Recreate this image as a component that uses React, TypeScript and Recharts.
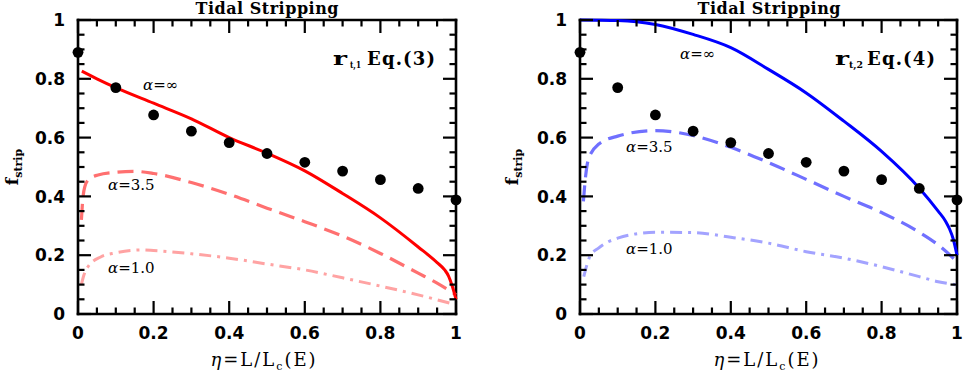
import React from 'react';
import { ComposedChart, Line, Scatter, XAxis, YAxis, ReferenceLine } from 'recharts';

// ---- data ----
const etaSim = [0, 0.1, 0.2, 0.3, 0.4, 0.5, 0.6, 0.7, 0.8, 0.9, 1.0];
const fSim = [0.89, 0.77, 0.677, 0.622, 0.583, 0.546, 0.516, 0.486, 0.457, 0.427, 0.388];

const etaRedInf = [0.01, 0.05, 0.1, 0.2, 0.3, 0.4, 0.5, 0.6, 0.7, 0.8, 0.9, 0.95, 0.97, 0.98, 0.99, 1.0];
const fRedInf = [0.826, 0.8, 0.77, 0.717, 0.664, 0.6, 0.547, 0.487, 0.41, 0.327, 0.228, 0.175, 0.15, 0.13, 0.095, 0.05];

const etaRed35 = [0.009, 0.012, 0.018, 0.03, 0.053, 0.1, 0.15, 0.2, 0.3, 0.4, 0.5, 0.6, 0.7, 0.8, 0.9, 0.95, 1.0];
const fRed35 = [0.32, 0.38, 0.433, 0.46, 0.473, 0.482, 0.485, 0.478, 0.447, 0.407, 0.36, 0.314, 0.265, 0.206, 0.139, 0.105, 0.065];

const etaRed10 = [0.009, 0.015, 0.026, 0.06, 0.1, 0.167, 0.2, 0.3, 0.4, 0.5, 0.6, 0.7, 0.8, 0.9, 1.0];
const fRed10 = [0.1, 0.13, 0.16, 0.194, 0.208, 0.218, 0.216, 0.205, 0.19, 0.17, 0.15, 0.123, 0.095, 0.065, 0.031];

const etaBlueInf = [0.0, 0.1, 0.15, 0.2, 0.3, 0.4, 0.5, 0.6, 0.7, 0.8, 0.9, 0.95, 0.97, 0.98, 0.99, 1.0];
const fBlueInf = [1.0, 0.998, 0.994, 0.985, 0.951, 0.906, 0.832, 0.752, 0.656, 0.553, 0.428, 0.35, 0.315, 0.29, 0.255, 0.2];

const etaBlue35 = [0.009, 0.015, 0.022, 0.05, 0.1, 0.2, 0.3, 0.4, 0.5, 0.6, 0.7, 0.8, 0.9, 0.95, 1.0];
const fBlue35 = [0.383, 0.47, 0.525, 0.578, 0.605, 0.624, 0.607, 0.567, 0.515, 0.458, 0.4, 0.345, 0.278, 0.235, 0.178];

const etaBlue10 = [0.01, 0.026, 0.05, 0.1, 0.2, 0.3, 0.4, 0.5, 0.6, 0.7, 0.8, 0.9, 0.95, 1.0];
const fBlue10 = [0.127, 0.195, 0.225, 0.258, 0.278, 0.277, 0.261, 0.241, 0.212, 0.19, 0.161, 0.127, 0.11, 0.099];

const majorTicks = [0, 0.2, 0.4, 0.6, 0.8, 1];
const tickLabels = ['0', '0.2', '0.4', '0.6', '0.8', '1'];
const allTicks = [0, 0.05, 0.1, 0.15, 0.2, 0.25, 0.3, 0.35, 0.4, 0.45, 0.5, 0.55, 0.6, 0.65, 0.7, 0.75, 0.8, 0.85, 0.9, 0.95, 1];

const zip = (xs: number[], ys: number[]) => xs.map((x, i) => ({ x, y: ys[i] }));

// ---- styles ----
const W = 482;
const H = 373;
const PLOT_TOP = 20;
const PLOT_BOTTOM = 314;
const PH = PLOT_BOTTOM - PLOT_TOP;
const MAJ = 13;
const MIN = 6.5;
const TW = 2.2; // tick thickness
const TICK_COLOR = '#000';
const TICK_FONT = { fontFamily: 'DejaVu Sans', fontWeight: 700, fontSize: 17 } as const;
const SERIF = 'DejaVu Serif';

const labelOf = (v: number) => {
  const i = majorTicks.findIndex((m) => Math.abs(m - v) < 1e-6);
  return i >= 0 ? tickLabels[i] : null;
};

// bottom axis: draws bottom + top inward ticks and the label
const bottomTick = (props: any) => {
  const x = Number(props.x);
  const y = Number(props.y);
  const lab = labelOf(props.payload.value as number);
  const len = lab !== null ? MAJ : MIN;
  return (
    <g>
      <rect x={x - TW / 2} y={y - len} width={TW} height={len} fill={TICK_COLOR} />
      <rect x={x - TW / 2} y={y - PH} width={TW} height={len} fill={TICK_COLOR} />
      {lab !== null && (
        <text x={x} y={y + 24.5} textAnchor="middle" fill="#000" {...TICK_FONT}>{lab}</text>
      )}
    </g>
  );
};

// left axis: draws left + right inward ticks and the label
const makeLeftTick = (pw: number) => (props: any) => {
  const x = Number(props.x);
  const y = Number(props.y);
  const lab = labelOf(props.payload.value as number);
  const len = lab !== null ? MAJ : MIN;
  return (
    <g>
      <rect x={x} y={y - TW / 2} width={len} height={TW} fill={TICK_COLOR} />
      <rect x={x + pw - len} y={y - TW / 2} width={len} height={TW} fill={TICK_COLOR} />
      {lab !== null && (
        <text x={x - 13} y={y + 6.2} textAnchor="end" fill="#000" {...TICK_FONT}>{lab}</text>
      )}
    </g>
  );
};

const axisLineStyle = { stroke: '#000', strokeWidth: 2.6, strokeLinecap: 'square' as const };

type Curve = { data: { x: number; y: number }[]; color: string; dash?: string; width: number };

function Panel({ left, curves, plotLeft, plotRight }: { left: number; curves: Curve[]; plotLeft: number; plotRight: number }) {
  const dots = zip(etaSim, fSim);
  return (
    <div style={{ position: 'absolute', left, top: 0, width: W, height: H }}>
      <ComposedChart width={W} height={H} margin={{ top: PLOT_TOP, left: plotLeft - 1, right: W - plotRight, bottom: H - PLOT_BOTTOM - 1 }}>
        <XAxis xAxisId="b" dataKey="x" type="number" domain={[0, 1]} ticks={allTicks} interval={0}
          height={1} tickSize={0} tickMargin={0} tickLine={false} axisLine={axisLineStyle} tick={bottomTick} />
        <YAxis yAxisId="l" dataKey="y" type="number" domain={[0, 1]} ticks={allTicks} interval={0}
          width={1} tickSize={0} tickMargin={0} tickLine={false} axisLine={axisLineStyle} tick={makeLeftTick(plotRight - plotLeft)} />
        <ReferenceLine xAxisId="b" yAxisId="l" y={1} stroke="#000" strokeWidth={2.6} strokeLinecap="square" />
        <ReferenceLine xAxisId="b" yAxisId="l" x={1} stroke="#000" strokeWidth={2.6} strokeLinecap="square" />
        {curves.map((c, i) => (
          <Line key={i} xAxisId="b" yAxisId="l" data={c.data} dataKey="y" type="monotone" stroke={c.color}
            strokeWidth={c.width} strokeDasharray={c.dash} dot={false} activeDot={false} isAnimationActive={false} />
        ))}
        <Scatter xAxisId="b" yAxisId="l" data={dots} dataKey="y" fill="#000" isAnimationActive={false}
          shape={(p: any) => <circle cx={p.cx} cy={p.cy} r={5.4} fill="#000" />} />
      </ComposedChart>
    </div>
  );
}

const redCurves: Curve[] = [
  { data: zip(etaRed10, fRed10), color: '#ffa3a3', dash: '12 6 3 6', width: 3 },
  { data: zip(etaRed35, fRed35), color: '#ff7070', dash: '16 8', width: 3.2 },
  { data: zip(etaRedInf, fRedInf), color: '#ff0000', width: 3 },
];
const blueCurves: Curve[] = [
  { data: zip(etaBlue10, fBlue10), color: '#a3a3ff', dash: '12 6 3 6', width: 3 },
  { data: zip(etaBlue35, fBlue35), color: '#7070ff', dash: '16 8', width: 3.2 },
  { data: zip(etaBlueInf, fBlueInf), color: '#0000ff', width: 3 },
];

function Alpha({ x, y, val }: { x: number; y: number; val: string }) {
  return (
    <text x={x} y={y} fontFamily={SERIF} fontSize={15} fill="#000">
      <tspan fontStyle="italic">α</tspan>
      <tspan>={val}</tspan>
    </text>
  );
}

function Overlay() {
  return (
    <svg width={964} height={373} style={{ position: 'absolute', left: 0, top: 0, pointerEvents: 'none' }}>
      <text x={267} y={14} textAnchor="middle" fontFamily={SERIF} fontWeight={700} fontSize={16} textLength={143} lengthAdjust="spacing" fill="#000">Tidal Stripping</text>
      <text x={769} y={14} textAnchor="middle" fontFamily={SERIF} fontWeight={700} fontSize={16} textLength={143} lengthAdjust="spacing" fill="#000">Tidal Stripping</text>

      {[264, 767].map((cx, i) => (
        <text key={i} x={cx} y={366} textAnchor="middle" fontFamily={SERIF} fontSize={18} letterSpacing={2} fill="#000">
          <tspan fontStyle="italic">η</tspan>=L/L<tspan fontSize={11} dy={4}>c</tspan><tspan dy={-4}>(E)</tspan>
        </text>
      ))}

      {[18, 518].map((bx, i) => (
        <text key={i} transform={`translate(${bx},167) rotate(-90)`} textAnchor="middle" fontFamily={SERIF} fontWeight={700} fontSize={17} fill="#000">
          f<tspan fontSize={11} dy={4}>strip</tspan>
        </text>
      ))}

      <text x={333} y={65} fontFamily={SERIF} fontWeight={700} fontSize={18} textLength={14} lengthAdjust="spacingAndGlyphs" fill="#000">r</text>
      <text x={350} y={68} fontFamily={SERIF} fontWeight={700} fontSize={10} textLength={11} lengthAdjust="spacingAndGlyphs" fill="#000">t,1</text>
      <text x={367} y={65} fontFamily={SERIF} fontWeight={700} fontSize={18} textLength={68} lengthAdjust="spacing" fill="#000">Eq.(3)</text>

      <text x={835} y={65} fontFamily={SERIF} fontWeight={700} fontSize={18} textLength={14} lengthAdjust="spacingAndGlyphs" fill="#000">r</text>
      <text x={849} y={68} fontFamily={SERIF} fontWeight={700} fontSize={10} textLength={14} lengthAdjust="spacingAndGlyphs" fill="#000">t,2</text>
      <text x={867} y={65} fontFamily={SERIF} fontWeight={700} fontSize={18} textLength={68} lengthAdjust="spacing" fill="#000">Eq.(4)</text>

      <Alpha x={143} y={90} val="∞" />
      <Alpha x={108} y={190} val="3.5" />
      <Alpha x={108} y={273} val="1.0" />
      <Alpha x={680} y={59} val="∞" />
      <Alpha x={626} y={151.5} val="3.5" />
      <Alpha x={626} y={254} val="1.0" />
    </svg>
  );
}

export default function App() {
  return (
    <div style={{ position: 'absolute', left: 0, top: 0, width: 964, height: 373, background: '#fff', overflow: 'hidden' }}>
      <Panel left={0} curves={redCurves} plotLeft={78} plotRight={456} />
      <Panel left={482} curves={blueCurves} plotLeft={98} plotRight={475} />
      <Overlay />
    </div>
  );
}
